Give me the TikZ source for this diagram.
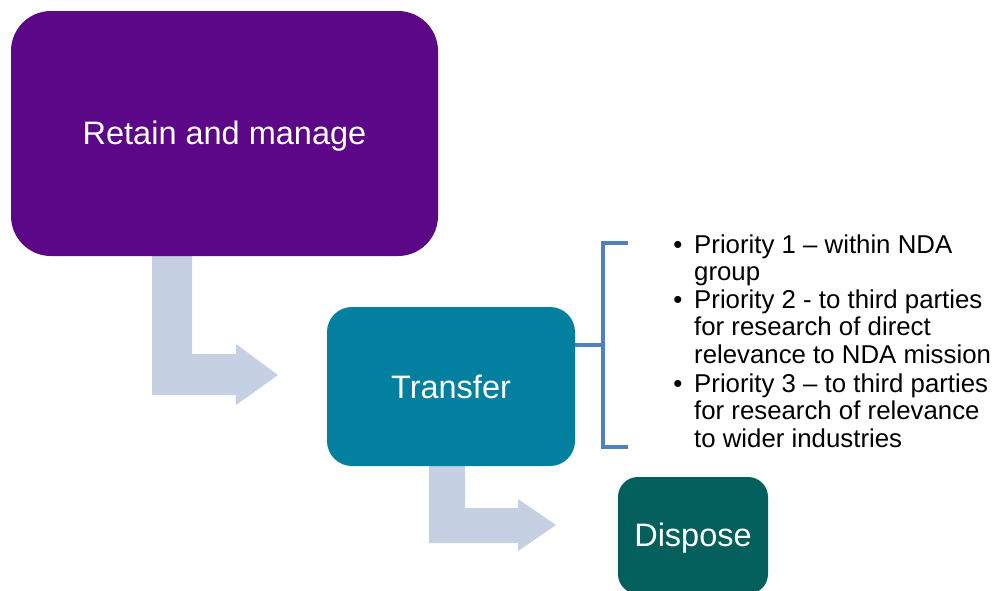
\documentclass[tikz,border=0pt]{standalone}
\usepackage{fontspec}
\setmainfont{Liberation Sans}
\usetikzlibrary{calc}
\definecolor{retaincol}{HTML}{5C0787}
\definecolor{transfercol}{HTML}{0380A0}
\definecolor{disposecol}{HTML}{025F5B}
\definecolor{arrowcol}{HTML}{C5D0E3}
\definecolor{bracketcol}{HTML}{4F81BD}
\begin{document}
\begin{tikzpicture}[x=1pt,y=-1pt,
  box/.style={rounded corners=#1, inner sep=0pt},
  boxlabel/.style={text=white, inner sep=0pt, font=\fontsize{32.5}{39}\selectfont},
  blockarrow/.style={fill=arrowcol, draw=none},
  bracketline/.style={draw=bracketcol, line width=4pt, line cap=butt, line join=miter},
  itemtext/.style={anchor=base west, inner sep=0pt, font=\fontsize{25.8}{27.5}\selectfont},
  bullet/.style={anchor=base, inner sep=0pt, font=\fontsize{25.8}{27.5}\selectfont}]
\useasboundingbox (0,0) rectangle (997,590);
% block arrows
\fill[blockarrow] (152,256) -- (192,256) -- (192,354) -- (236,354) -- (236,344)
  -- (278,375) -- (236,405) -- (236,395) -- (152,395) -- cycle;
\fill[blockarrow] (429,464) -- (465,464) -- (465,508) -- (518,508) -- (518,499)
  -- (556,525) -- (518,551) -- (518,543) -- (429,543) -- cycle;
% boxes
\node[box=40pt, fill=retaincol, minimum width=427pt, minimum height=245pt]
  (retain) at (224.5,133.5) {};
\node[boxlabel] (retainlabel) at ($(retain.center)+(0,2.5)$) {Retain and manage};
\node[box=25pt, fill=transfercol, minimum width=248pt, minimum height=159pt]
  (transfer) at (451,386.5) {};
\node[boxlabel] (transferlabel) at ($(transfer.center)+(0,0)$) {Transfer};
\node[box=20pt, fill=disposecol, minimum width=150pt, minimum height=117pt]
  (dispose) at (693,535.5) {};
\node[boxlabel] (disposelabel) at ($(dispose.center)+(0,2.5)$) {Dispose};
% bracket
\coordinate (bmid) at (603,345);
\coordinate (btop) at (603,243);
\coordinate (bbot) at (603,447);
\draw[bracketline] (transfer.east |- bmid) -- (bmid);
\draw[bracketline] ($(btop)+(25,0)$) -- (btop) -- (bbot) -- ($(bbot)+(25,0)$);
% bullet list
\node[bullet] (b1) at (678,253) {•};
\node[itemtext] (l1) at (694,253) {Priority 1 – within NDA};
\node[itemtext] (l2) at (694,280) {group};
\node[bullet] (b2) at (678,308) {•};
\node[itemtext] (l3) at (694,308) {Priority 2 - to third parties};
\node[itemtext] (l4) at (694,335.5) {for research of direct};
\node[itemtext] (l5) at (694,363) {relevance to NDA mission};
\node[bullet] (b3) at (678,392) {•};
\node[itemtext] (l6) at (694,392) {Priority 3 – to third parties};
\node[itemtext] (l7) at (694,419.5) {for research of relevance};
\node[itemtext] (l8) at (694,447) {to wider industries};
\end{tikzpicture}
\end{document}
